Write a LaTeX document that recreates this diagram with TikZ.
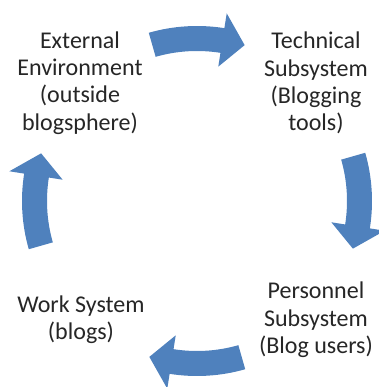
\documentclass[tikz,border=0pt]{standalone}
\usepackage{fontspec}
\setmainfont{Carlito}
\usetikzlibrary{positioning}
\definecolor{cycleblue}{HTML}{4F81BD}
\definecolor{labelgray}{HTML}{262626}

\tikzset{
  stage/.style={align=center, text=labelgray, inner sep=0pt,
    font=\fontsize{20.5}{23.3}\selectfont},
  cyclearrow/.style={fill=cycleblue, draw=none},
}

\begin{document}
\begin{tikzpicture}[x=0.03cm, y=0.03cm]
	\useasboundingbox (0,0) rectangle (378,387);
	%% centre of the cycle
	\coordinate (hub) at (197,186);
	%% the four stages
	\node[stage] (ext)  at (80,304)  {External\\Environment\\(outside\\blogsphere)};
	\node[stage] (tech) at (316,304) {Technical\\Subsystem\\(Blogging\\tools)};
	\node[stage] (pers) at (316,67)  {Personnel\\Subsystem\\(Blog users)};
	\node[stage] (work) at (81,67)   {Work System\\(blogs)};
	% curved arrows, clockwise round the hub
	\foreach \a in {90,0,-90,-180}{
		\fill[cyclearrow, shift={(hub)}]
			({\a+16}:175) arc[start angle=\a+16, end angle=\a-9, radius=175]
			-- ({\a-9}:190) -- ({\a-17}:163) -- ({\a-9}:136)
			-- ({\a-9}:150) arc[start angle=\a-9, end angle=\a+16, radius=150]
			-- cycle;
	}
\end{tikzpicture}
\end{document}
